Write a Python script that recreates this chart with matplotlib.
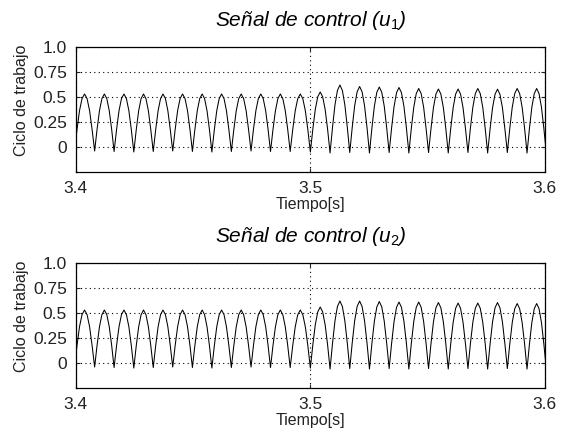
import numpy as np
import matplotlib
matplotlib.use('Agg')
import matplotlib.pyplot as plt

plt.rcParams['font.family'] = ['Liberation Sans', 'DejaVu Sans']
plt.rcParams['mathtext.fontset'] = 'custom'
plt.rcParams['mathtext.it'] = 'Liberation Sans:italic'
plt.rcParams['mathtext.rm'] = 'Liberation Sans'

# trough instants of the rectified control signal
t_trough = [3.3994, 3.4080, 3.4163, 3.4247, 3.4330, 3.4413, 3.4497, 3.4580,
            3.4663, 3.4747, 3.4830, 3.4914, 3.5000, 3.5084, 3.5168, 3.5252,
            3.5336, 3.5420, 3.5504, 3.5588, 3.5672, 3.5756, 3.5840, 3.5924,
            3.6006]

# u1: trough and peak values per half-cycle
u1_low = [-0.045, -0.04, -0.045, -0.05, -0.045, -0.04, -0.045, -0.05, -0.045,
          -0.04, -0.045, -0.045, -0.05, -0.06, -0.055, -0.06, -0.055, -0.06,
          -0.055, -0.06, -0.055, -0.06, -0.055, -0.06, -0.055]
u1_peak = [0.53, 0.53, 0.53, 0.53, 0.53, 0.53, 0.53, 0.53, 0.53, 0.53, 0.53, 0.53,
           0.55, 0.62, 0.605, 0.60, 0.595, 0.585, 0.58, 0.58, 0.585, 0.578, 0.585, 0.585]

# u2: trough and peak values per half-cycle
u2_low = [-0.045, -0.04, -0.045, -0.05, -0.045, -0.04, -0.045, -0.05, -0.045,
          -0.04, -0.045, -0.045, -0.05, -0.06, -0.055, -0.06, -0.055, -0.06,
          -0.055, -0.06, -0.055, -0.06, -0.055, -0.06, -0.055]
u2_peak = [0.53, 0.53, 0.53, 0.53, 0.53, 0.53, 0.53, 0.53, 0.53, 0.53, 0.53, 0.53,
           0.56, 0.62, 0.62, 0.615, 0.61, 0.61, 0.605, 0.60, 0.60, 0.605, 0.595, 0.595]

# shape of one arch (fraction of half-cycle, normalised height)
arch_pos = [0.0, 0.125, 0.25, 0.375, 0.5, 0.625, 0.75, 0.875]
arch_val = [0.0, 0.38, 0.71, 0.92, 1.0, 0.92, 0.71, 0.38]

titles = ['Se\u00f1al de control ($u_{\\mathit{1}}$)', 'Se\u00f1al de control ($u_{\\mathit{2}}$)']
yticks = [0, 0.25, 0.5, 0.75, 1.0]
ytick_labels = ['0', '0.25', '0.5', '0.75', '1.0']
xticks = [3.4, 3.5, 3.6]
xtick_labels = ['3.4', '3.5', '3.6']


def build(low, peak):
    t, u = [], []
    for i in range(len(peak)):
        t0, t1 = t_trough[i], t_trough[i + 1]
        for f, s in zip(arch_pos, arch_val):
            t.append(t0 + f * (t1 - t0))
            u.append(low[i] + (peak[i] - low[i]) * s)
    t.append(t_trough[-1])
    u.append(low[-1])
    return np.array(t), np.array(u)


fig = plt.figure(figsize=(5.62, 4.36), dpi=100)
rects = [[0.135, 0.6055, 0.8345, 0.2867], [0.135, 0.110, 0.8345, 0.2867]]

for rect, title, low, peak in zip(rects, titles, [u1_low, u2_low], [u1_peak, u2_peak]):
    ax = fig.add_axes(rect)
    t, u = build(low, peak)
    ax.plot(t, u, color='black', lw=0.75)
    ax.set_xlim(3.4, 3.6)
    ax.set_ylim(-0.25, 1.0)
    ax.set_xticks(xticks)
    ax.set_xticklabels(xtick_labels)
    ax.set_yticks(yticks)
    ax.set_yticklabels(ytick_labels)
    ax.grid(True, color='black', ls=(0, (1, 3)), lw=0.8)
    ax.tick_params(direction='in', length=3, top=True, right=True,
                   labelsize=12.5, pad=6.5, colors='#222222')
    for sp in ax.spines.values():
        sp.set_linewidth(0.9)
    ax.set_title(title, fontsize=15, style='italic', pad=15)
    ax.set_xlabel('Tiempo[s]', fontsize=11.5, labelpad=1, color='#222222')
    ax.set_ylabel('Ciclo de trabajo', fontsize=11.5, color='#222222')
    ax.yaxis.set_label_coords(-0.099, 0.57)

fig.savefig('out.png', dpi=100)
